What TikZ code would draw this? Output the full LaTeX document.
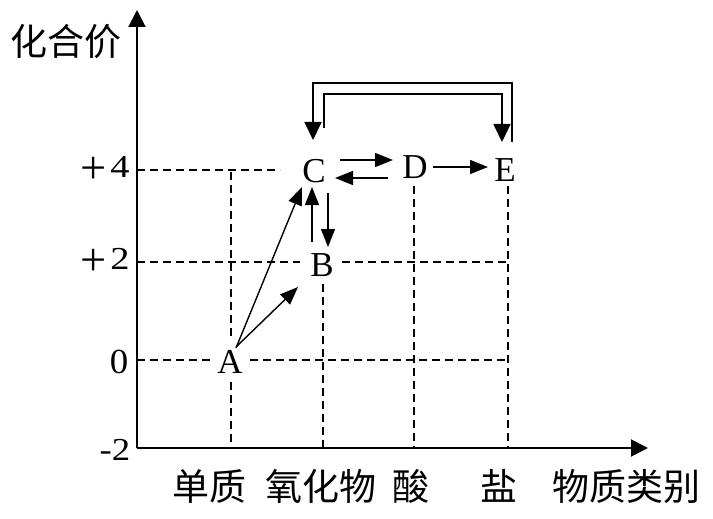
\documentclass[tikz,border=0pt]{standalone}
\usepackage{fontspec}
\usepackage{graphicx}
\setmainfont{Liberation Serif}
\newfontfamily\cjk{Noto Sans CJK SC}
\usetikzlibrary{arrows.meta}
\newcommand{\bigplus}{\raisebox{-6pt}{\scalebox{1.45}{+}}}
\begin{document}
\begin{tikzpicture}[x=1pt,y=-1pt,
  axis/.style={line width=2pt,-{Triangle[length=17pt,width=17pt]}},
  grid/.style={line width=1.3pt,dash pattern=on 8pt off 5pt},
  arr/.style={line width=1.4pt,-{Triangle[length=18pt,width=14pt]}},
  dbl/.style={line width=1.8pt,-{Triangle[length=18pt,width=17pt]}},
  letter/.style={inner sep=0pt,font=\fontsize{35}{35}\selectfont},
  num/.style={inner sep=0pt,font=\fontsize{32}{32}\selectfont},
  cn/.style={inner sep=0pt,font=\cjk\fontsize{37}{37}\selectfont}]
\useasboundingbox (0,0) rectangle (713,519);
% axes
\coordinate (O) at (137,448);
\coordinate (Ytop) at (137,10);
\coordinate (Xend) at (648,448);
% grid
\draw[grid] (137,170) -- (280,170);
\draw[grid] (137,262) -- (300,262);
\draw[grid] (342,262) -- (508,262);
\draw[grid] (137,360) -- (212,360);
\draw[grid] (250,360) -- (508,360);
\draw[grid] (231,172) -- (231,340);
\draw[grid] (231,382) -- (231,448);
\draw[grid] (323,284) -- (323,448);
\draw[grid] (414,186) -- (414,448);
\draw[grid] (508,186) -- (508,448);
\draw[axis] (O) -- (Ytop);
\draw[axis] (O) -- (Xend);
% tick labels
\node[num,anchor=base] (p4) at (105,177) {\bigplus\hspace{4pt}\scalebox{1.2}[1]{4}};
\node[num,anchor=base] (p2) at (105,269) {\bigplus\hspace{4pt}\scalebox{1.2}[1]{2}};
\node[num] (z0) at (119,362) {\scalebox{1.15}[1.1]{0}};
\node[num] (m2) at (115,450) {\scalebox{1.15}[1]{-2}};
% axis titles
\node[cn] (yl) at (66,42) {化合价};
\node[cn] (c1) at (209,486) {单质};
\node[cn] (c2) at (321,486) {氧化物};
\node[cn] (c3) at (411,486) {酸};
\node[cn] (c4) at (499,486) {盐};
\node[cn] (xl) at (626,487) {物质类别};
% species
\node[letter] (A) at (230,362) {A};
\node[letter] (B) at (322,265) {B};
\node[letter] (C) at (314,171) {C};
\node[letter] (D) at (415,167) {D};
\node[letter] (E) at (505,170) {E};
% arrows
\draw[arr] ([shift={(6,-14)}]A.center) -- ([shift={(-12,16)}]C.center);
\draw[arr] ([shift={(6,-15)}]A.center) -- ([shift={(-24,22)}]B.center);
\draw[arr] ([shift={(26,-11)}]C.center) -- ([shift={(-22,-7)}]D.center);
\draw[arr] ([shift={(-27,11)}]D.center) -- ([shift={(21,7)}]C.center);
\draw[arr] ([shift={(18,0)}]D.center) -- ([shift={(-17,-3)}]E.center);
\draw[arr] ([shift={(-10,-23)}]B.center) -- ([shift={(-2,16)}]C.center);
\draw[arr] ([shift={(14,22)}]C.center) -- ([shift={(6,-18)}]B.center);
% bracket
\draw[dbl] ([shift={(7,-28)}]E.center) |- (313,83) -- ([shift={(-1,-31)}]C.center);
\draw[dbl] ([shift={(10,-43)}]C.center) |- (502,94) -- ([shift={(-3,-28)}]E.center);
\end{tikzpicture}
\end{document}
